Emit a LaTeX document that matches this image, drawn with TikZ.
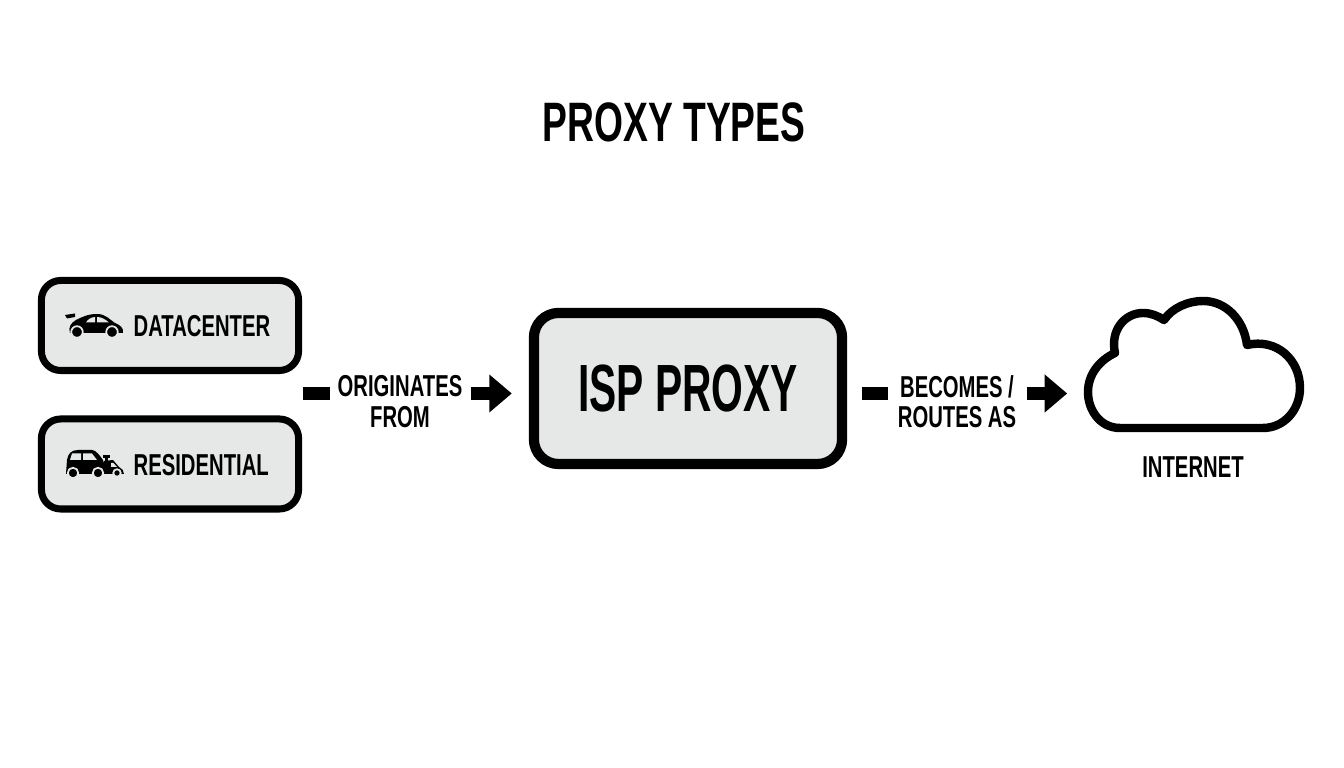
\documentclass[tikz,border=0pt]{standalone}
\usepackage{fontspec}
\usepackage{xcolor}
\setmainfont{Liberation Sans}[FakeStretch=0.67,BoldFeatures={FakeStretch=0.67}]
\newfontfamily\ispfont{Liberation Sans}[FakeStretch=0.61,BoldFeatures={FakeStretch=0.61}]
\usetikzlibrary{positioning,calc,arrows.meta}
\definecolor{boxgray}{HTML}{E6E7E7}
\tikzset{
    sourcebox/.style={draw=black, line width=2pt, fill=boxgray, rounded corners=5.5pt, minimum width=2.57cm, minimum height=0.9cm},
    ispbox/.style={draw=black, line width=2.9pt, fill=boxgray, rounded corners=7pt, minimum width=3.08cm, minimum height=1.51cm},
    sourcelabel/.style={font=\fontsize{8.6}{10}\selectfont\bfseries},
    flowlabel/.style={font=\fontsize{8.6}{8.6}\selectfont\bfseries, align=center, inner sep=0pt},
    stub/.style={line width=3.7pt},
    flow/.style={line width=3.7pt, -{Triangle[length=6.4pt,width=10.4pt]}},
    wheel/.style={fill=black, draw=boxgray, line width=0.5pt}
}
\begin{document}
\begin{tikzpicture}[x=0.01cm,y=-0.01cm]
    \useasboundingbox (0,0) rectangle (1344,768);

    \node[font=\fontsize{15.8}{18}\selectfont\bfseries] (title) at (674,122) {PROXY TYPES};

    \node[sourcebox] (datacenter) at (170,325.5) {};
    \node[sourcebox] (residential) at (170,464) {};
    \node[sourcelabel, anchor=west, inner sep=0pt] (dclabel) at (133,326) {DATACENTER};
    \node[sourcelabel, anchor=west, inner sep=0pt] (reslabel) at (133,465) {RESIDENTIAL};

    \node[ispbox] (isp) at (688,388.5) {};
    \node[font=\fontsize{19}{22}\selectfont\ispfont\bfseries] (isplabel) at (688,389) {ISP PROXY};

    % sports car
    \fill (70,333) .. controls (68,327) and (71,323) .. (76,320) .. controls (82,317) and (88,314) .. (97,314)
        .. controls (106,314) and (110,320) .. (115,323) .. controls (120,325) and (124,328) .. (123,333) -- cycle;
    \fill (65,315) -- (75,313.5) -- (75,317) -- (67,318.5) -- cycle;
    \fill[boxgray] (86,322.5) .. controls (88,319) and (91,317.5) .. (95,317) -- (95,322.5) -- cycle;
    \fill[boxgray] (97,317) .. controls (102,317) and (106,320) .. (109,322.5) -- (97,322.5) -- cycle;
    \node[wheel, circle, minimum size=0.115cm, inner sep=0pt] (frontwheel) at (112,332) {};
    \node[wheel, circle, minimum size=0.115cm, inner sep=0pt] (rearwheel) at (77,332) {};

    % family car and small car
    \fill (66,474) -- (67,460) .. controls (68,454) and (71,450) .. (78,450) -- (92,450)
        .. controls (96,450) and (100,456) .. (103,460) -- (106,470) -- (104,474) -- cycle;
    \fill[boxgray] (72,453.5) -- (81,453.5) -- (81,460) -- (70,460) -- cycle;
    \fill[boxgray] (83,453.5) -- (92,453.5) -- (97,460) -- (83,460) -- cycle;
    \fill (104,474) -- (104,461) -- (113,460) -- (119,467) .. controls (122,468) and (124,471) .. (124,474) -- cycle;
    \fill[boxgray] (111,463) -- (113.5,463) -- (117,467) -- (111,467) -- cycle;
    \fill (103,455) rectangle (110,458);
    \fill (105,458) rectangle (108,461);
    \node[wheel, circle, minimum size=0.105cm, inner sep=0pt] (wheela) at (73,473) {};
    \node[wheel, circle, minimum size=0.105cm, inner sep=0pt] (wheelb) at (98,473) {};
    \node[wheel, circle, minimum size=0.075cm, inner sep=0pt] (wheelc) at (117,473) {};

    % cloud
    \node[minimum width=2.2cm, minimum height=1.36cm, inner sep=0pt] (cloud) at (1194,365) {};
    \draw[line width=2.4pt, line join=round] (1120,428)
        .. controls (1100,428) and (1088,410) .. (1088,392)
        .. controls (1088,374) and (1100,360) .. (1115,353)
        .. controls (1110,330) and (1125,313) .. (1143,313)
        .. controls (1151,313) and (1158,316) .. (1164,320)
        .. controls (1172,308) and (1188,301) .. (1203,301)
        .. controls (1226,301) and (1244,320) .. (1247,345)
        .. controls (1277,338) and (1300,360) .. (1300,388)
        .. controls (1300,410) and (1284,428) .. (1263,428)
        -- cycle;
    \node[sourcelabel, inner sep=0pt] (internet) at (1193,467) {INTERNET};

    \node[flowlabel] (originates) at (400,401.5) {ORIGINATES\\FROM};
    \node[flowlabel] (becomes) at (957,401.5) {BECOMES /\\ROUTES AS};

    \coordinate (leftstub) at (303,393.5);
    \coordinate (midstub) at (862,393.5);
    \draw[stub, shorten >=0.07cm] (leftstub) -- (originates.west |- leftstub);
    \draw[stub, shorten >=0.09cm] (midstub) -- (becomes.west |- midstub);
    \draw[flow, shorten <=0.08cm, shorten >=0.17cm] (originates.east |- leftstub) -- (isp.west |- leftstub);
    \draw[flow, shorten <=0.1cm, shorten >=0.16cm] (becomes.east |- midstub) -- (cloud.west |- midstub);
\end{tikzpicture}
\end{document}
